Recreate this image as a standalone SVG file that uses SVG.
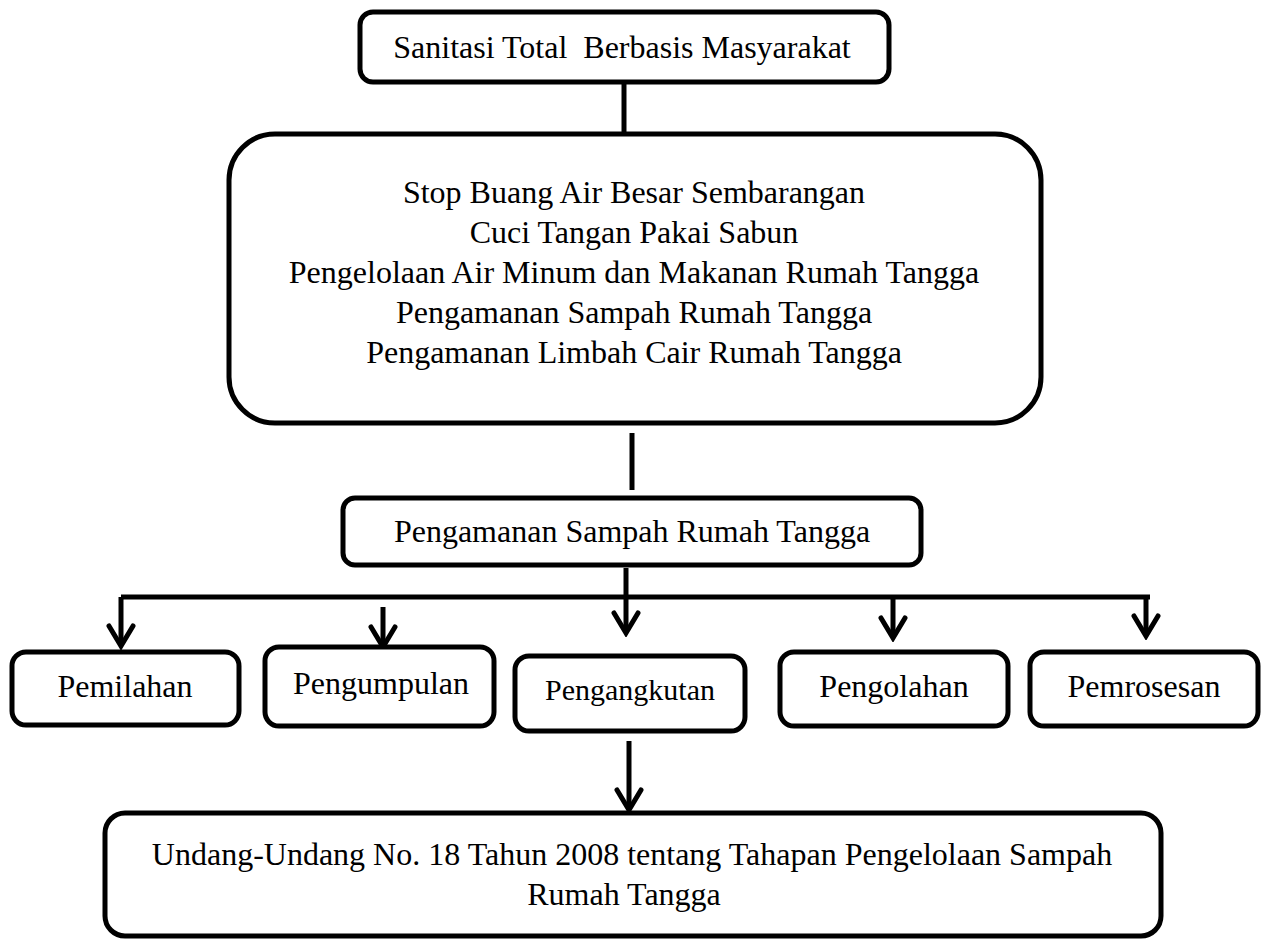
<svg xmlns="http://www.w3.org/2000/svg" width="1267" height="941" viewBox="0 0 1267 941">
<style>
.box{fill:#fff;stroke:#000;stroke-width:5}
.t{font-family:"Liberation Serif","Times New Roman",serif;font-size:32px;fill:#000;text-anchor:middle}
.ln{stroke:#000;stroke-width:5;fill:none}
.ar{stroke:#000;stroke-width:5;fill:none;marker-end:url(#ah)}
</style>
<defs>
<marker id="ah" markerUnits="userSpaceOnUse" viewBox="-24 -16 28 32" refX="0" refY="0" markerWidth="28" markerHeight="32" orient="auto">
<path d="M-20,-12 L0,0 L-20,12" fill="none" stroke="#000" stroke-width="5" stroke-linecap="round" stroke-linejoin="miter"/>
</marker>
</defs>
<rect width="1267" height="941" fill="#fff"/>
<g id="connectors">
<line class="ln" x1="624" y1="82" x2="624" y2="143"/>
<line class="ln" x1="632" y1="433" x2="632" y2="490"/>
<line class="ln" x1="121" y1="597" x2="1150" y2="597"/>
<line class="ar" x1="626" y1="568" x2="626" y2="633"/>
<line class="ar" x1="121" y1="597" x2="121" y2="646"/>
<line class="ar" x1="383" y1="607" x2="383" y2="647"/>
<line class="ar" x1="893" y1="597" x2="893" y2="638"/>
<line class="ar" x1="1146" y1="597" x2="1146" y2="636"/>
<line class="ar" x1="629" y1="741" x2="629" y2="810"/>
</g>
<g id="n-stbm">
<rect class="box" x="360" y="12" width="529" height="70" rx="13"/>
<text class="t" x="622" y="58" xml:space="preserve" style="white-space:pre">Sanitasi Total  Berbasis Masyarakat</text>
</g>
<g id="n-pilar">
<rect class="box" x="229" y="134" width="812" height="289" rx="46"/>
<text class="t" x="634" y="203">Stop Buang Air Besar Sembarangan</text>
<text class="t" x="634" y="243">Cuci Tangan Pakai Sabun</text>
<text class="t" x="634" y="283">Pengelolaan Air Minum dan Makanan Rumah Tangga</text>
<text class="t" x="634" y="323">Pengamanan Sampah Rumah Tangga</text>
<text class="t" x="634" y="363">Pengamanan Limbah Cair Rumah Tangga</text>
</g>
<g id="n-psrt">
<rect class="box" x="343" y="498" width="578" height="67" rx="12"/>
<text class="t" x="632" y="542">Pengamanan Sampah Rumah Tangga</text>
</g>
<g id="n-pemilahan">
<rect class="box" x="12" y="652" width="227" height="73" rx="14"/>
<text class="t" x="125" y="697">Pemilahan</text>
</g>
<g id="n-pengumpulan">
<rect class="box" x="265" y="647" width="229" height="79" rx="14"/>
<text class="t" x="381" y="694">Pengumpulan</text>
</g>
<g id="n-pengangkutan">
<rect class="box" x="515" y="656" width="230" height="75" rx="14"/>
<text class="t" x="630" y="700" style="font-size:30px">Pengangkutan</text>
</g>
<g id="n-pengolahan">
<rect class="box" x="780" y="652" width="228" height="74" rx="14"/>
<text class="t" x="894" y="697">Pengolahan</text>
</g>
<g id="n-pemrosesan">
<rect class="box" x="1030" y="652" width="228" height="74" rx="14"/>
<text class="t" x="1144" y="697">Pemrosesan</text>
</g>
<g id="n-uu">
<rect class="box" x="105" y="813" width="1056" height="123" rx="20"/>
<text class="t" x="632" y="865">Undang-Undang No. 18 Tahun 2008 tentang Tahapan Pengelolaan Sampah</text>
<text class="t" x="624" y="905">Rumah Tangga</text>
</g>
</svg>
